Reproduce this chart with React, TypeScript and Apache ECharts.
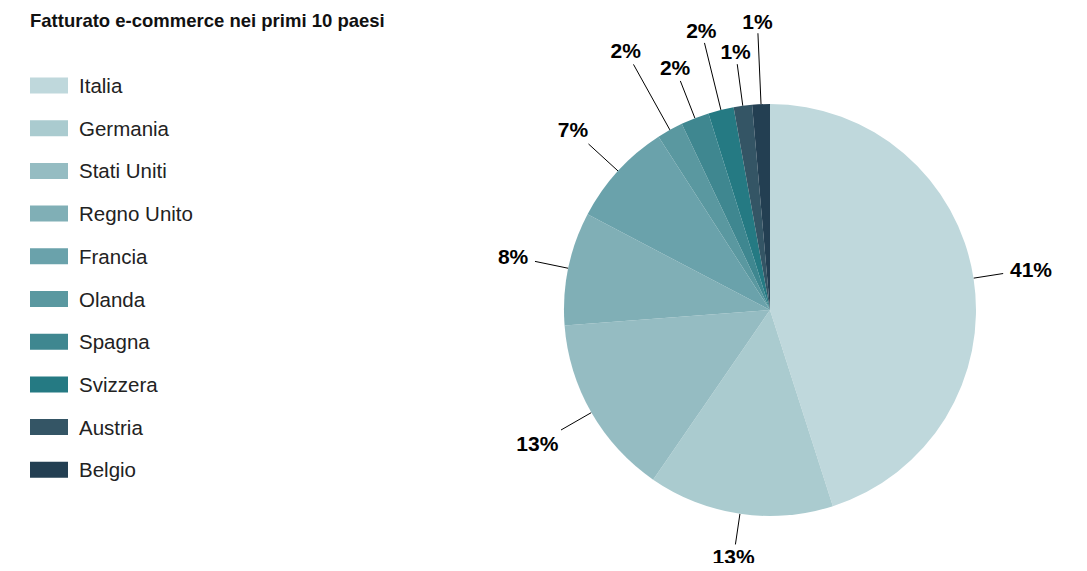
import React, { useEffect, useRef } from "react";
import * as echarts from "echarts";

const titleText = "Fatturato e-commerce nei primi 10 paesi";
const countries = ["Italia", "Germania", "Stati Uniti", "Regno Unito", "Francia", "Olanda", "Spagna", "Svizzera", "Austria", "Belgio"];
const values = [40.6, 13.1, 12.8, 8.0, 7.4, 1.85, 2.0, 1.8, 1.3, 1.25];
const colors = ["#bfd8dc", "#aacbcf", "#95bcc2", "#80afb6", "#6aa2ab", "#5a98a0", "#3f8790", "#257a83", "#345565", "#233f52"];
const lineLengths = [30, 31, 35, 34, 40, 75, 40, 69, 42, 71];

export default function App() {
  const ref = useRef<HTMLDivElement>(null);
  useEffect(() => {
    if (!ref.current) return;
    const chart = echarts.init(ref.current, null, { renderer: "svg" });
    chart.setOption({
      animation: false,
      title: {
        text: titleText,
        left: 25,
        top: 6,
        textStyle: { fontFamily: "Liberation Sans", fontSize: 18.5, fontWeight: "bold", color: "#111" },
      },
      legend: {
        orient: "vertical",
        left: 25,
        top: 70,
        itemWidth: 38,
        itemHeight: 16,
        itemGap: 21.7,
        icon: "rect",
        data: countries,
        textStyle: { fontFamily: "Liberation Sans", fontSize: 20.5, lineHeight: 20, color: "#222", padding: [0, 0, 0, 6] },
      },
      series: [
        {
          type: "pie",
          center: [770, 310],
          radius: [0, 206],
          startAngle: 90,
          clockwise: true,
          avoidLabelOverlap: false,
          color: colors,
          itemStyle: { borderWidth: 0 },
          label: {
            show: true,
            position: "outside",
            fontFamily: "Liberation Sans",
            fontSize: 21,
            fontWeight: "bold",
            color: "#000",
            formatter: (p: any) => Math.round(p.value) + "%",
          },
          labelLine: { show: true, length2: 0, lineStyle: { color: "#000", width: 1 } },
          labelLayout: (p: any) => {
            const pts = p.labelLinePoints;
            if (!pts || pts.length < 2) return {};
            const a = pts[0];
            const b = pts[1];
            let dx = b[0] - a[0];
            let dy = b[1] - a[1];
            const len = Math.sqrt(dx * dx + dy * dy) || 1;
            dx /= len;
            dy /= len;
            const w = p.labelRect.width;
            const h = p.labelRect.height;
            const tx = Math.abs(dx) > 1e-6 ? w / 2 / Math.abs(dx) : Infinity;
            const ty = Math.abs(dy) > 1e-6 ? h / 2 / Math.abs(dy) : Infinity;
            const t = Math.min(tx, ty) + 1 + 6 * Math.abs(dx);
            return {
              x: b[0] + dx * t,
              y: b[1] + dy * t,
              align: "center",
              verticalAlign: "middle",
              labelLinePoints: [a, b, b],
            };
          },
          emphasis: { disabled: true },
          data: countries.map((c, i) => ({
            name: c,
            value: values[i],
            labelLine: { length: lineLengths[i], length2: 0 },
          })),
        },
      ],
    });
    return () => chart.dispose();
  }, []);
  return <div ref={ref} style={{ width: 1087, height: 571, margin: -8 }} />;
}
